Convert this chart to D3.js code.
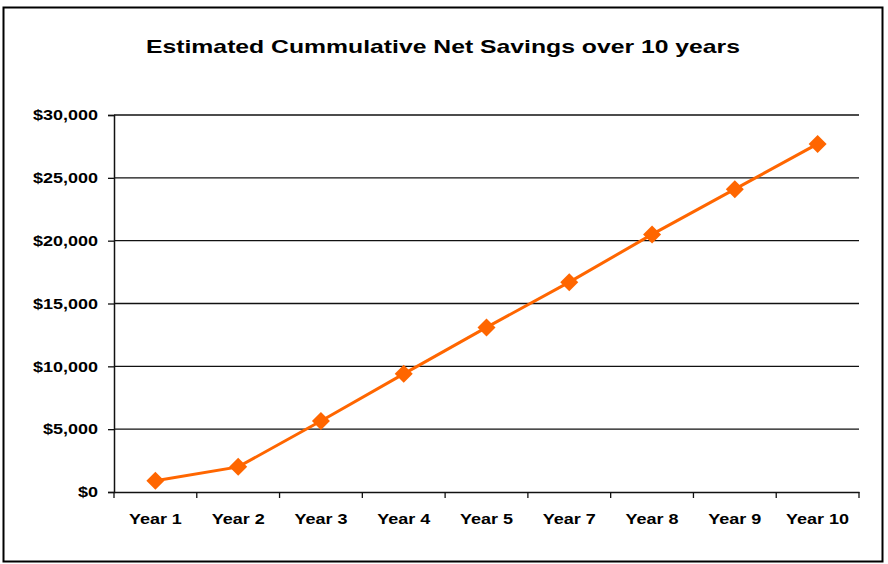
<!DOCTYPE html>
<html><head><meta charset="utf-8">
<script src="https://cdn.jsdelivr.net/npm/d3@7"></script>
<style>html,body{margin:0;padding:0;background:#fff;}svg{display:block;}</style>
</head><body>
<script>
const categories = ["Year 1","Year 2","Year 3","Year 4","Year 5","Year 7","Year 8","Year 9","Year 10"];
const savings = [900, 2000, 5650, 9400, 13100, 16700, 20500, 24100, 27700];
const yTicks = [0, 5000, 10000, 15000, 20000, 25000, 30000];
const title = "Estimated Cummulative Net Savings over 10 years";

const W = 888, H = 564;
const m = {left: 114, right: 29, top: 115, bottom: 72};
const FONT = "Liberation Sans, Arial, sans-serif";
const SX = 1.2;
const svg = d3.select("body").append("svg").attr("width", W).attr("height", H);

svg.append("rect").attr("x", 3.5).attr("y", 7.5).attr("width", 879).attr("height", 554)
  .attr("fill", "#fff").attr("stroke", "#000").attr("stroke-width", 2);

svg.append("text").attr("x", 443).attr("y", 53).attr("text-anchor", "middle")
  .attr("font-family", FONT).attr("font-weight", "bold")
  .attr("font-size", 19).attr("textLength", 594).attr("lengthAdjust", "spacingAndGlyphs").text(title);

const x = d3.scaleBand().domain(categories).range([m.left, W - m.right]);
const y = d3.scaleLinear().domain([0, 30000]).range([H - m.bottom, m.top]);

// gridlines
svg.append("g").selectAll("line").data(yTicks.filter(d => d > 0)).join("line")
  .attr("x1", m.left).attr("x2", W - m.right)
  .attr("y1", d => y(d)).attr("y2", d => y(d))
  .attr("stroke", "#111").attr("stroke-width", 1.3);

const fmt = d => "$" + d3.format(",")(d);
const ya = svg.append("g").attr("transform", `translate(${m.left},0)`)
  .call(d3.axisLeft(y).tickValues(yTicks).tickFormat(fmt).tickSize(6).tickPadding(10));
ya.select(".domain").attr("stroke", "#111").attr("stroke-width", 1.5);
ya.selectAll(".tick line").attr("stroke", "#111").attr("stroke-width", 1.3);
ya.selectAll("text").each(function() {
  const t = d3.select(this); const xv = +t.attr("x");
  t.attr("x", 0).attr("transform", `translate(${xv},0) scale(${SX},1)`);
}).attr("font-family", FONT).attr("font-weight", "bold")
  .attr("font-size", 15).attr("fill", "#000");

const xa = svg.append("g").attr("transform", `translate(0,${H - m.bottom})`)
  .call(d3.axisBottom(x).tickSize(0).tickPadding(21));
xa.select(".domain").attr("stroke", "#111").attr("stroke-width", 1.5);
xa.selectAll("text").attr("transform", `scale(${SX},1)`)
  .attr("font-family", FONT).attr("font-weight", "bold")
  .attr("font-size", 15).attr("fill", "#000");
// band boundary ticks
const bounds = categories.map(c => x(c)).concat([x(categories[categories.length-1]) + x.bandwidth()]);
svg.append("g").selectAll("line").data(bounds).join("line")
  .attr("x1", d => d).attr("x2", d => d)
  .attr("y1", H - m.bottom).attr("y2", H - m.bottom + 6)
  .attr("stroke", "#111").attr("stroke-width", 1.3);

const cx = d => x(d) + x.bandwidth() / 2;
const line = d3.line().x((d, i) => cx(categories[i])).y(d => y(d));
svg.append("path").datum(savings).attr("d", line)
  .attr("fill", "none").attr("stroke", "#FF6600").attr("stroke-width", 3);

svg.append("g").selectAll("path").data(savings).join("path")
  .attr("transform", (d, i) => `translate(${cx(categories[i])},${y(d)})`)
  .attr("d", "M0,-9L9,0L0,9L-9,0Z").attr("fill", "#FF6600");
</script>
</body></html>
